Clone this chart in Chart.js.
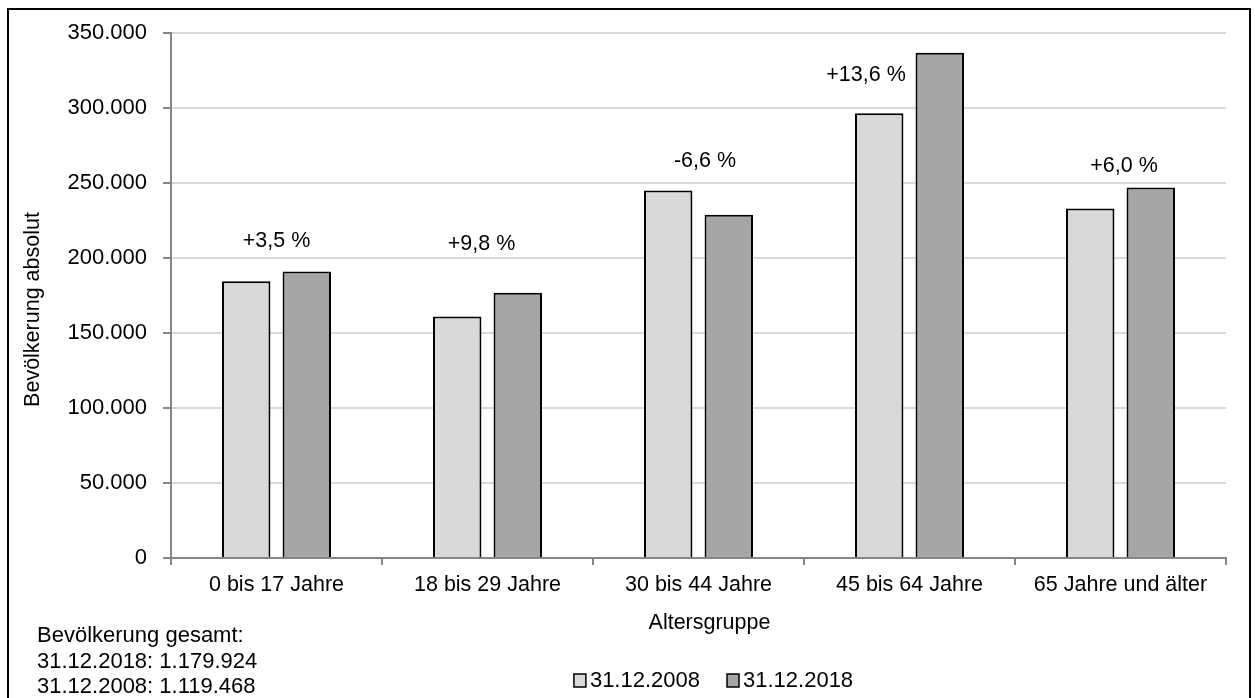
<!DOCTYPE html>
<html lang="de">
<head>
<meta charset="utf-8">
<title>Bevölkerung nach Altersgruppen</title>
<script src="https://cdn.jsdelivr.net/npm/chart.js@4"></script>
<style>
  html, body { margin: 0; padding: 0; background: #fff; }
  #wrap { position: relative; width: 1255px; height: 698px; }
</style>
</head>
<body>
<div id="wrap"><canvas id="c" width="1255" height="698"></canvas></div>
<script>
// Altersgruppen (Kategorien)
const categories = ['0 bis 17 Jahre', '18 bis 29 Jahre', '30 bis 44 Jahre', '45 bis 64 Jahre', '65 Jahre und älter'];
// Stichtage (Reihen)
const seriesLabels = ['31.12.2008', '31.12.2018'];
// Einwohner je Altersgruppe
const values2008 = [184500, 161000, 245000, 296500, 233000];
const values2018 = [191000, 176800, 228800, 336800, 247000];
// Veränderung 2008 -> 2018
const changeLabels = ['+3,5 %', '+9,8 %', '-6,6 %', '+13,6 %', '+6,0 %'];
// Achsenbeschriftung
const yTickValues = [0, 50000, 100000, 150000, 200000, 250000, 300000, 350000];
const xAxisTitle = 'Altersgruppe';
const yAxisTitle = 'Bevölkerung absolut';
// Gesamtbevölkerung
const totalsNote = ['Bevölkerung gesamt:', '31.12.2018: 1.179.924', '31.12.2008: 1.119.468'];

const FAMILY = '"Liberation Sans", Arial, sans-serif';
const GRID_AXIS = '#868686';
const colors = ['#d9d9d9', '#a6a6a6'];

Chart.defaults.font.family = FAMILY;
Chart.defaults.color = '#000';

// German thousands separator
function fmt(v) {
  return String(v).replace(/\B(?=(\d{3})+(?!\d))/g, '.');
}

// Text offsets of the change labels relative to the group centre / taller bar top
const changeOffsets = [[0, -24.5], [-6, -43], [6.5, -24], [-43.5, 28.6], [3.5, -16]];

const decor = {
  id: 'decor',
  beforeDraw(chart) {
    const ctx = chart.ctx;
    ctx.save();
    ctx.fillStyle = '#fff';
    ctx.fillRect(0, 0, chart.width, chart.height);
    ctx.restore();
  },
  afterDraw(chart) {
    const { ctx, chartArea, scales: { x, y } } = chart;
    ctx.save();

    // outer frame
    ctx.strokeStyle = '#000';
    ctx.lineWidth = 2;
    ctx.strokeRect(8, 9, 1242, 720);

    ctx.fillStyle = '#000';

    // change percentages above each group
    ctx.font = '21.5px ' + FAMILY;
    ctx.textAlign = 'center';
    ctx.textBaseline = 'alphabetic';
    changeLabels.forEach((t, i) => {
      const top = y.getPixelForValue(Math.max(values2008[i], values2018[i]));
      const o = changeOffsets[i];
      ctx.fillText(t, x.getPixelForValue(i) + o[0], top + o[1]);
    });

    // axis titles
    const cx = (chartArea.left + chartArea.right) / 2;
    ctx.textBaseline = 'middle';
    ctx.fillText(xAxisTitle, cx + 11, chartArea.bottom + 65);
    ctx.save();
    ctx.translate(33, (chartArea.top + chartArea.bottom) / 2 + 14);
    ctx.rotate(-Math.PI / 2);
    ctx.fillText(yAxisTitle, 0, 0);
    ctx.restore();

    // legend
    ctx.font = '22px ' + FAMILY;
    ctx.textAlign = 'left';
    ctx.textBaseline = 'alphabetic';
    const box = 12, gap = 4, spacing = 27;
    const items = chart.data.datasets.map(ds => ({ label: ds.label, fill: ds.backgroundColor, w: ctx.measureText(ds.label).width }));
    let total = items.reduce((s, it) => s + box + gap + it.w, 0) + spacing * (items.length - 1);
    let lx = cx + 15 - total / 2;
    const base = chartArea.bottom + 129;
    items.forEach(it => {
      ctx.fillStyle = it.fill;
      ctx.fillRect(lx, base - 13, box, 13);
      ctx.strokeStyle = '#000';
      ctx.lineWidth = 1.5;
      ctx.strokeRect(lx, base - 13, box, 13);
      ctx.fillStyle = '#000';
      ctx.fillText(it.label, lx + box + gap, base);
      lx += box + gap + it.w + spacing;
    });

    // totals note
    const noteBase = [642, 668, 693];
    totalsNote.forEach((t, i) => ctx.fillText(t, 37, noteBase[i]));

    ctx.restore();
  }
};

new Chart(document.getElementById('c'), {
  type: 'bar',
  data: {
    labels: categories,
    datasets: [
      { label: seriesLabels[0], data: values2008, backgroundColor: colors[0], borderColor: '#000', borderWidth: 2, categoryPercentage: 0.574, barPercentage: 0.8 },
      { label: seriesLabels[1], data: values2018, backgroundColor: colors[1], borderColor: '#000', borderWidth: 2, categoryPercentage: 0.574, barPercentage: 0.8 }
    ]
  },
  options: {
    responsive: false,
    animation: false,
    events: [],
    layout: { padding: { left: 12, right: 29, top: 33, bottom: 58 } },
    plugins: { legend: { display: false }, tooltip: { enabled: false } },
    scales: {
      x: {
        grid: { display: true, drawOnChartArea: false, drawTicks: true, tickLength: 7, color: GRID_AXIS, lineWidth: 2, offset: true },
        border: { color: GRID_AXIS, width: 2 },
        ticks: { color: '#000', font: { size: 21.5 }, padding: 7, maxRotation: 0, autoSkip: false },
        afterFit(s) { s.height = 82; }
      },
      y: {
        min: 0,
        max: yTickValues[yTickValues.length - 1],
        afterBuildTicks(s) { s.ticks = yTickValues.map(v => ({ value: v })); },
        ticks: { color: '#000', font: { size: 22 }, padding: 16, callback: v => fmt(v) },
        grid: { color: '#d9d9d9', lineWidth: 2, tickColor: GRID_AXIS, tickLength: 8 },
        border: { color: GRID_AXIS, width: 2 },
        afterFit(s) { s.width = 159; }
      }
    }
  },
  plugins: [decor]
});
</script>
</body>
</html>
